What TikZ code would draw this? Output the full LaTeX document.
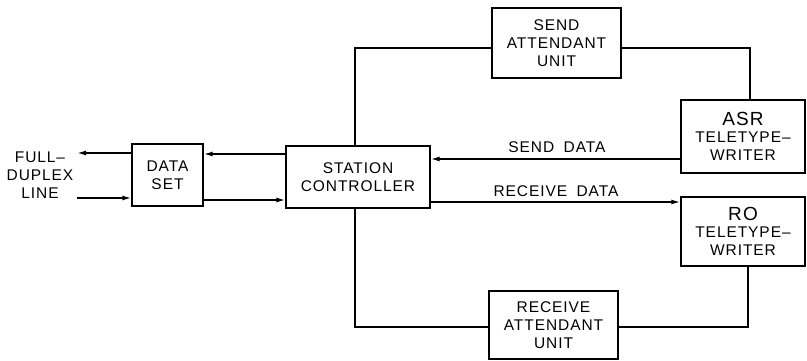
\documentclass[tikz,border=0pt]{standalone}
\usepackage{fontspec}
\newfontfamily\lettering[LetterSpace=6,WordSpace=1.8]{Liberation Sans}
\usetikzlibrary{arrows.meta}
\begin{document}
\begin{tikzpicture}[x=1pt,y=-1pt,
  every node/.style={font=\lettering\fontsize{15.5}{18}\selectfont, align=center, inner sep=0pt},
  blk/.style={draw, line width=1.4pt, rectangle},
  conn/.style={line width=1.5pt},
  arr/.style={conn, -{Latex[length=9pt,width=5pt]}}
]
\useasboundingbox (0,0) rectangle (807,361);
% blocks
\node[blk, minimum width=71pt, minimum height=62pt] (ds) at (167.5,175) {DATA\\SET};
\node[blk, minimum width=144pt, minimum height=62pt] (sc) at (358,177) {STATION\\CONTROLLER};
\node[blk, minimum width=129pt, minimum height=70pt] (sau) at (556.5,43) {SEND\\ATTENDANT\\UNIT};
\node[blk, minimum width=124pt, minimum height=73pt] (asr) at (743,136.5) {{\fontsize{19}{18}\selectfont ASR}\\[-1pt]TELETYPE–\\WRITER};
\node[blk, minimum width=124pt, minimum height=69pt] (ro) at (743,231.5) {{\fontsize{19}{18}\selectfont RO}\\[-1pt]TELETYPE–\\WRITER};
\node[blk, minimum width=129pt, minimum height=68pt] (rau) at (553.5,325) {RECEIVE\\ATTENDANT\\UNIT};
% text
\node (fdl) at (40,175) {FULL–\\DUPLEX\\LINE};
\node (sdl) at (557,147) {SEND DATA};
\node (rdl) at (556,191) {RECEIVE DATA};
% helper coordinates
\coordinate (fl1) at (77,153);
\coordinate (fl2) at (77,198);
\coordinate (y154) at (0,154);
\coordinate (y200) at (0,200);
\coordinate (y159) at (0,159);
\coordinate (y202) at (0,202);
\coordinate (xv) at (355,0);
\coordinate (ytop) at (0,48);
\coordinate (xa) at (750,0);
\coordinate (xr) at (748,0);
\coordinate (ybot) at (0,327);
% connectors
\draw[arr] (ds.west |- fl1) -- (fl1);
\draw[arr] (fl2) -- (ds.west |- fl2);
\draw[arr] (sc.west |- y154) -- (ds.east |- y154);
\draw[arr] (ds.east |- y200) -- (sc.west |- y200);
\draw[arr] (asr.west |- y159) -- (sc.east |- y159);
\draw[arr] (sc.east |- y202) -- (ro.west |- y202);
\draw[conn] (sc.north -| xv) |- (sau.west |- ytop);
\draw[conn] (sau.east |- ytop) -| (asr.north -| xa);
\draw[conn] (ro.south -| xr) |- (rau.east |- ybot);
\draw[conn] (rau.west |- ybot) -| (sc.south -| xv);
\end{tikzpicture}
\end{document}
